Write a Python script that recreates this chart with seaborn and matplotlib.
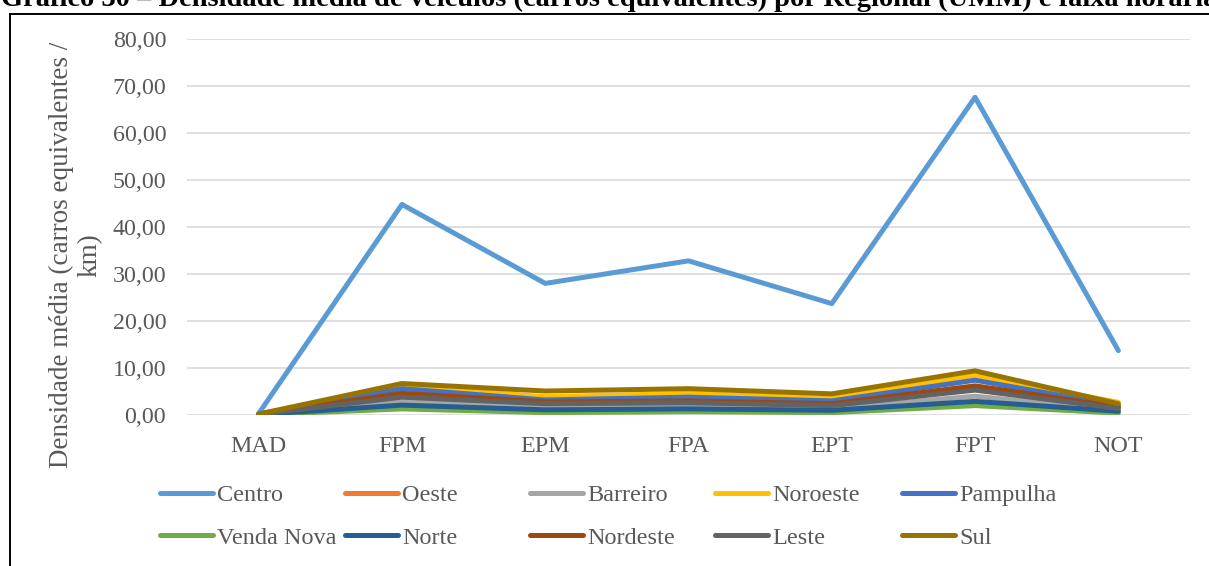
import matplotlib
matplotlib.use("Agg")
import matplotlib.pyplot as plt
import seaborn as sns
import pandas as pd
from matplotlib.lines import Line2D
from matplotlib.patches import Rectangle

faixas = ["MAD", "FPM", "EPM", "FPA", "EPT", "FPT", "NOT"]
regionais = ["Centro", "Oeste", "Barreiro", "Noroeste", "Pampulha",
             "Venda Nova", "Norte", "Nordeste", "Leste", "Sul"]
centro = [0.3, 44.8, 28.0, 32.8, 23.7, 67.6, 13.7]
oeste = [0.1, 4.0, 2.4, 2.8, 2.2, 5.6, 1.5]
barreiro = [0.1, 3.0, 1.6, 1.9, 1.4, 4.0, 1.0]
noroeste = [0.2, 6.1, 3.9, 4.6, 3.5, 8.4, 2.7]
pampulha = [0.2, 5.6, 3.2, 3.8, 3.0, 7.4, 2.0]
venda_nova = [0.05, 1.3, 0.5, 0.7, 0.5, 2.0, 0.4]
norte = [0.1, 2.1, 1.1, 1.3, 1.0, 2.9, 0.8]
nordeste = [0.15, 4.6, 2.8, 3.0, 2.4, 6.2, 1.7]
leste = [0.15, 3.8, 2.4, 2.6, 2.0, 5.3, 1.4]
sul = [0.2, 6.7, 5.1, 5.6, 4.5, 9.4, 2.4]
series = [centro, oeste, barreiro, noroeste, pampulha,
          venda_nova, norte, nordeste, leste, sul]
cores = ["#5B9BD5", "#ED7D31", "#A5A5A5", "#FFC000", "#4472C4",
         "#70AD47", "#255E91", "#9E480E", "#636363", "#997300"]

rows = []
for reg, vals in zip(regionais, series):
    for i, (f, v) in enumerate(zip(faixas, vals)):
        rows.append({"Regional": reg, "Faixa": f, "pos": i, "Densidade": v})
df = pd.DataFrame(rows)

sns.set_theme(style="white")
plt.rcParams["font.family"] = ["Liberation Serif", "DejaVu Serif"]

W, H = 1209, 566
fig = plt.figure(figsize=(W / 100, H / 100), dpi=100)
ax = fig.add_axes([187 / W, 1 - 415 / H, (1190 - 187) / W, (415 - 39) / H])

LW = 3.6
sns.lineplot(data=df, x="pos", y="Densidade", hue="Regional",
             hue_order=regionais, palette=cores, linewidth=LW,
             ax=ax, legend=False, sort=False,
             solid_capstyle="round", solid_joinstyle="round")

ax.set_xlim(-0.5, 6.5)
ax.set_ylim(0, 80)
ax.set_yticks(range(0, 81, 10))
ax.set_yticklabels([f"{v},00" for v in range(0, 81, 10)])
ax.set_xticks(range(len(faixas)))
ax.set_xticklabels(faixas)
ax.tick_params(axis="both", length=0, labelsize=17.3, labelcolor="#595959")
ax.tick_params(axis="y", pad=15)
ax.tick_params(axis="x", pad=15)
ax.grid(axis="y", color="#D9D9D9", linewidth=1.2)
ax.set_axisbelow(True)
for s in ax.spines.values():
    s.set_visible(False)
ax.set_xlabel("")
ax.set_ylabel("")

fig.text(76 / W, 1 - 255 / H, "Densidade média (carros equivalentes /\nkm)",
         rotation=90, ha="center", va="center", multialignment="center",
         fontsize=19.5, color="#595959", linespacing=1.2)

# legend: 5 columns x 2 rows, fixed column pitch
col_x = [160, 345, 530, 715, 902]
for c in range(5):
    handles = []
    labels = []
    for r in range(2):
        k = c + 5 * r
        handles.append(Line2D([], [], color=cores[k], linewidth=LW,
                              solid_capstyle="round"))
        labels.append(regionais[k])
    fig.legend(handles, labels, loc="upper left",
               bbox_to_anchor=(col_x[c] / W, 1 - 484 / H),
               frameon=False, fontsize=17.5, handlelength=2.2,
               handletextpad=0.16, labelspacing=0.85,
               borderpad=0, borderaxespad=0, labelcolor="#595959")

# outer chart border
fig.patches.append(Rectangle((10 / W, -0.1), 1.2, 1 - 14 / H + 0.1,
                             transform=fig.transFigure, fill=False,
                             edgecolor="black", linewidth=1.4))

fig.text(1 / W, 1 - 6 / H,
         "Gráfico 30 – Densidade média de veículos (carros equivalentes) por Regional (UMM) e faixa horária",
         fontsize=20.5, fontweight="bold", ha="left", va="baseline", color="black")

fig.savefig("out.png", dpi=100)
